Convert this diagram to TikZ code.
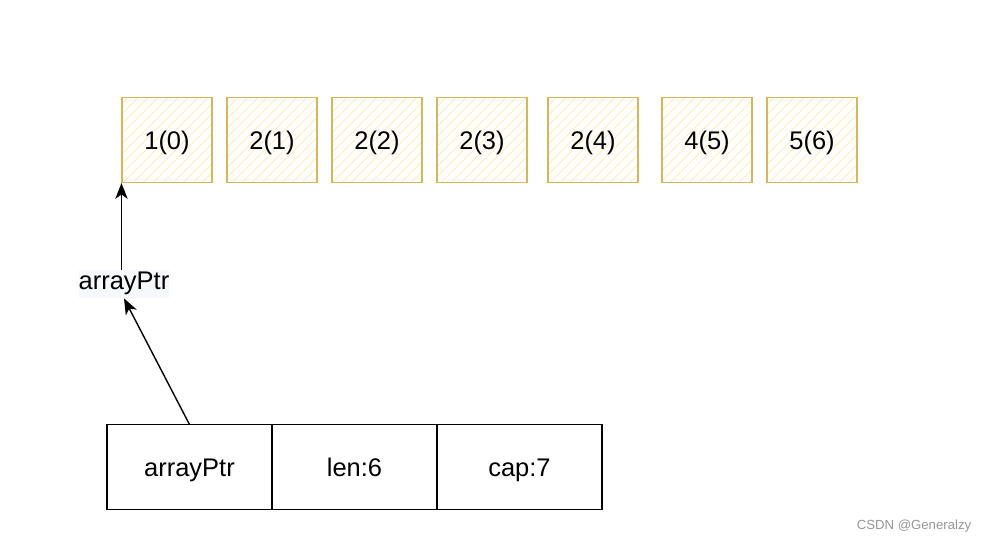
\documentclass[tikz,border=0pt]{standalone}
\usepackage{fontspec}
\setmainfont{Liberation Sans}
\usetikzlibrary{arrows.meta,patterns.meta,positioning}
\definecolor{cellborder}{RGB}{214,182,86}
\definecolor{cellhatch}{RGB}{255,240,190}
\definecolor{labelbg}{RGB}{246,248,251}
\definecolor{markgray}{RGB}{150,150,150}

\begin{document}
\begin{tikzpicture}[x=0.02cm,y=-0.02cm,
		every node/.style={font=\fontsize{14.5}{17}\selectfont,text height=12pt,text depth=1.6pt},
		elem/.style={draw=cellborder,line width=0.9pt,minimum width=1.8cm,minimum height=1.7cm,
			pattern={Lines[angle=45,distance=4pt,line width=0.6pt]},pattern color=cellhatch},
		field/.style={draw=black,line width=0.9pt,outer sep=0pt,minimum width=3.3cm,minimum height=1.7cm},
		ptr/.style={-{Stealth[length=9pt,width=7pt,inset=2.5pt]},line width=0.8pt}]
		\useasboundingbox (0,0) rectangle (988,544);
		% the array cells
		\node[elem] (cell0) at (167,140) {1(0)};
		\node[elem] (cell1) at (272,140) {2(1)};
		\node[elem] (cell2) at (377,140) {2(2)};
		\node[elem] (cell3) at (482,140) {2(3)};
		\node[elem] (cell4) at (593,140) {2(4)};
		\node[elem] (cell5) at (707,140) {4(5)};
		\node[elem] (cell6) at (812,140) {5(6)};
		% the slice header
		\node[field] (fieldptr) at (189.5,467) {arrayPtr};
		\node[field] (fieldlen) [right=0pt of fieldptr] {len:6};
		\node[field] (fieldcap) [right=0pt of fieldlen] {cap:7};
		\node[fill=labelbg,inner xsep=0pt,inner ysep=1pt,text height=10pt,text depth=4pt] (ptrlabel) at (124,284) {arrayPtr};
		\draw[ptr] (ptrlabel.north -| cell0.south west) -- (cell0.south west);
		\draw[ptr] (fieldptr.north) -- (ptrlabel.south);
		\node[text=markgray,font=\fontsize{7.5}{9}\selectfont,text height=,text depth=] (mark) at (914,526) {CSDN @Generalzy};
	\end{tikzpicture}
\end{document}
